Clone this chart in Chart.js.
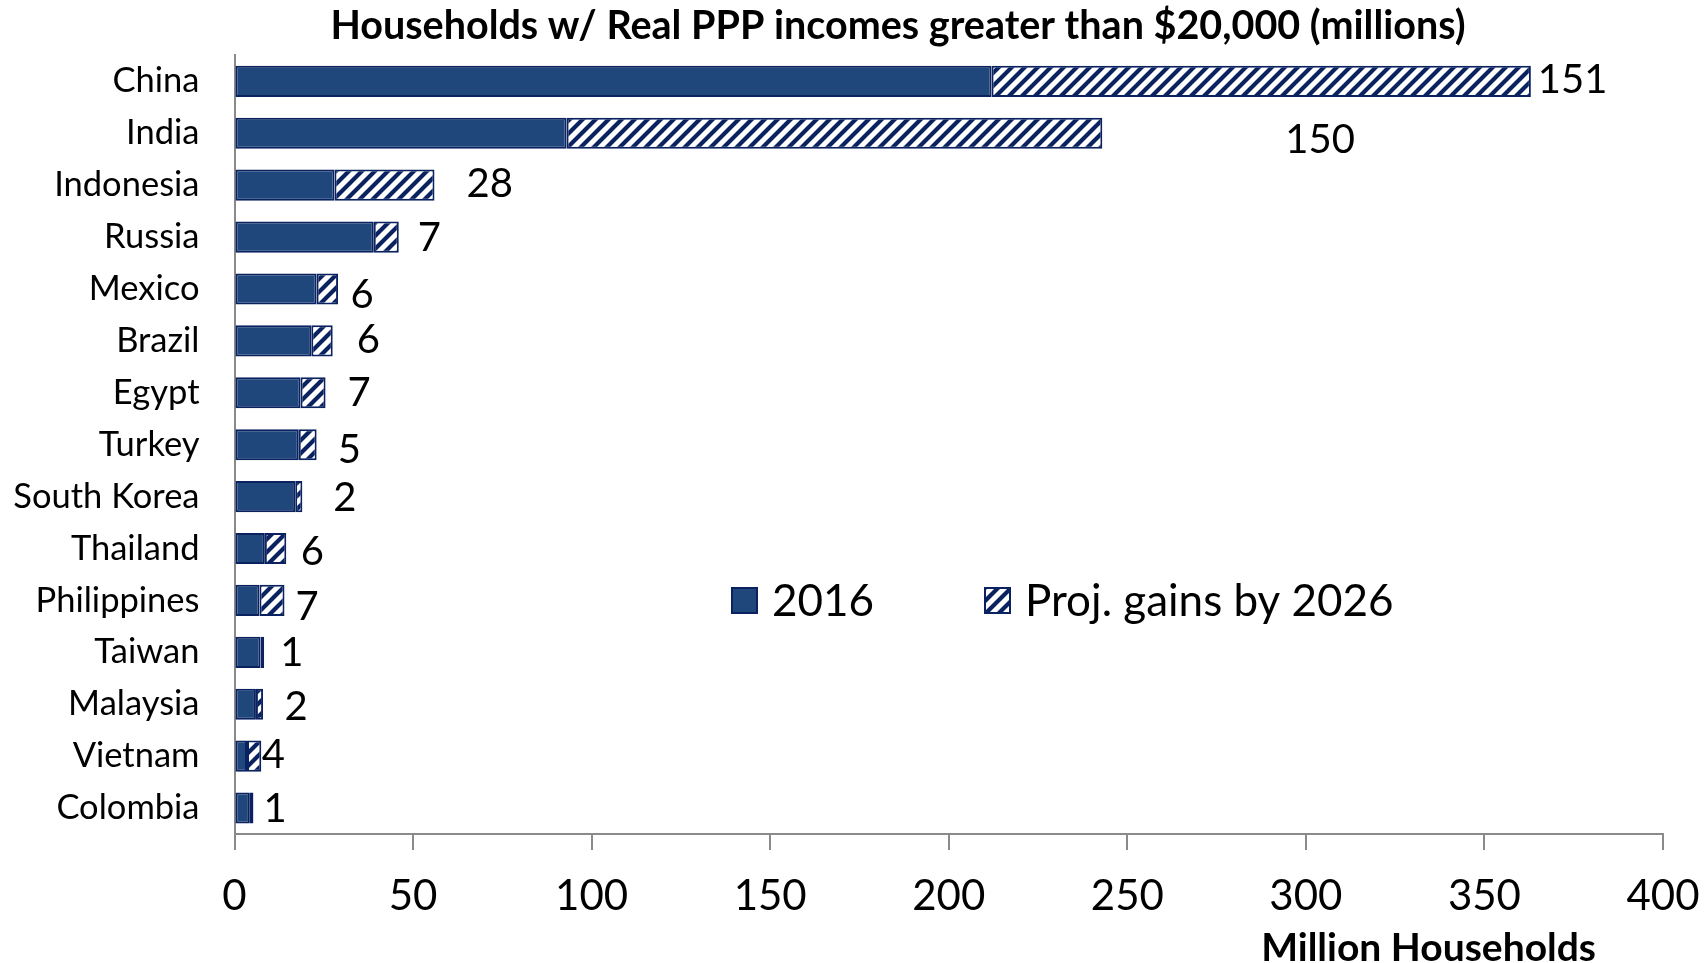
<!DOCTYPE html>
<html>
<head>
<meta charset="utf-8">
<script src="https://cdn.jsdelivr.net/npm/chart.js@4/dist/chart.umd.min.js"></script>
<style>
  html, body { margin: 0; padding: 0; background: #fff; }
  #wrap { width: 1705px; height: 963px; }
</style>
</head>
<body>
<div id="wrap"><canvas id="chart" width="1705" height="963"></canvas></div>
<script>
// data
const countries = ['China', 'India', 'Indonesia', 'Russia', 'Mexico', 'Brazil', 'Egypt', 'Turkey',
  'South Korea', 'Thailand', 'Philippines', 'Taiwan', 'Malaysia', 'Vietnam', 'Colombia'];
const households2016 = [212, 93, 28, 39, 23, 21.5, 18.5, 18, 17, 8.5, 7, 7.3, 6, 3.5, 4.3];
const projGains = [151, 150, 28, 7, 6, 6, 7, 5, 2, 6, 7, 1, 2, 4, 1];
const xTicks = [0, 50, 100, 150, 200, 250, 300, 350, 400];

// hand-placed data labels in the original: nudge from bar end / bar centre (px)
const labelNudge = [[7, -1.5], [183, 7], [32, -1], [19, 1], [12.5, 6], [24, -1], [22, 0], [21, 5],
  [31, 1], [14.5, 3], [11, 7], [16, 1], [21.5, 3], [0.5, -1], [10, 1]];

const NAVY = '#0b2260';
const SOLID = '#1f477b';
const FONT = 'Lato, "Open Sans", sans-serif';

function stripes() {
  const c = document.createElement('canvas');
  c.width = c.height = 13;
  const g = c.getContext('2d');
  g.fillStyle = '#fff';
  g.fillRect(0, 0, 13, 13);
  g.strokeStyle = NAVY;
  g.lineWidth = 4.2;
  g.beginPath();
  g.moveTo(-3, 16); g.lineTo(16, -3);
  g.moveTo(-3, 3); g.lineTo(3, -3);
  g.moveTo(10, 16); g.lineTo(16, 10);
  g.stroke();
  return g.createPattern(c, 'repeat');
}
const hatch = stripes();

// labels, legend and axis title as placed in the original
const extras = {
  id: 'extras',
  afterLayout(chart) {
    // let the country names run left of the (narrow) y scale box without being clipped
    chart.scales.y.left = 0;
  },
  afterDraw(chart) {
    const ctx = chart.ctx;
    const meta = chart.getDatasetMeta(1);
    ctx.save();
    ctx.fillStyle = '#000';
    ctx.textAlign = 'left';
    ctx.textBaseline = 'alphabetic';
    ctx.font = '40px ' + FONT;
    meta.data.forEach((bar, i) => {
      const n = labelNudge[i];
      ctx.fillText(String(projGains[i]), bar.x + n[0], bar.y + n[1] + 13);
    });

    // legend
    const items = [
      { text: '2016', fill: SOLID, x: 732 },
      { text: 'Proj. gains by 2026', fill: hatch, x: 985 }
    ];
    ctx.font = '44px ' + FONT;
    items.forEach(it => {
      ctx.fillStyle = it.fill;
      ctx.fillRect(it.x, 588, 25, 25);
      ctx.strokeStyle = NAVY;
      ctx.lineWidth = 2;
      ctx.strokeRect(it.x, 588, 25, 25);
      ctx.fillStyle = '#000';
      ctx.fillText(it.text, it.x + 40, 600 + 16);
    });

    // axis title
    ctx.font = 'bold 39px ' + FONT;
    ctx.textAlign = 'right';
    ctx.fillText('Million Households', 1596, 947 + 14);
    ctx.restore();
  }
};

new Chart(document.getElementById('chart'), {
  type: 'bar',
  data: {
    labels: countries,
    datasets: [
      {
        label: '2016',
        data: households2016,
        backgroundColor: SOLID,
        borderColor: NAVY,
        borderWidth: 2,
        borderSkipped: false,
        barPercentage: 0.6,
        categoryPercentage: 1
      },
      {
        label: 'Proj. gains by 2026',
        data: projGains,
        backgroundColor: hatch,
        borderColor: NAVY,
        borderWidth: 2,
        borderSkipped: false,
        barPercentage: 0.6,
        categoryPercentage: 1
      }
    ]
  },
  options: {
    indexAxis: 'y',
    responsive: false,
    animation: false,
    layout: { padding: { left: 133, right: 42, top: 0, bottom: 0 } },
    plugins: {
      legend: { display: false },
      tooltip: { enabled: false },
      title: {
        display: true,
        text: 'Households w/ Real PPP incomes greater than $20,000 (millions)',
        color: '#000',
        font: { family: FONT, size: 39.5, weight: 'bold', lineHeight: 1.2 },
        padding: { top: 3, bottom: 5 }
      }
    },
    scales: {
      x: {
        stacked: true,
        min: 0,
        max: 400,
        afterBuildTicks: s => { s.ticks = xTicks.map(v => ({ value: v })); },
        afterFit: s => { s.height = 129; s.paddingLeft = 0; s.paddingRight = 0; },
        grid: { drawOnChartArea: false, drawTicks: true, tickLength: 16, color: '#8a8a8a', lineWidth: 2 },
        border: { display: true, color: '#8a8a8a', width: 2 },
        ticks: { color: '#000', padding: 21, maxRotation: 0, font: { family: FONT, size: 42 } }
      },
      y: {
        stacked: true,
        afterFit: s => { s.width = 101.5; },
        grid: { display: false },
        border: { display: true, color: '#8a8a8a', width: 2 },
        ticks: { color: '#000', padding: 27, autoSkip: false, font: { family: FONT, size: 34.5 } }
      }
    }
  },
  plugins: [extras]
});
</script>
</body>
</html>
